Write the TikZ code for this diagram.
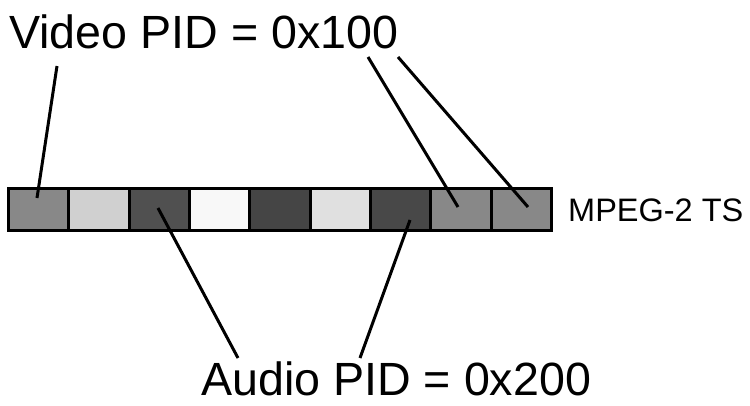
\documentclass[tikz,border=0pt]{standalone}
\usepackage{fontspec}
\setmainfont{Liberation Sans}
\begin{document}
\begin{tikzpicture}[x=1pt,y=-1pt,
  cell/.style={draw=black,line width=3pt,minimum width=60.33pt,minimum height=42pt,inner sep=0pt,anchor=north west},
  link/.style={draw=black,line width=3pt},
  bigtext/.style={font=\fontsize{46.6}{50}\selectfont,inner sep=0pt,anchor=base west},
  smalltext/.style={font=\fontsize{32.5}{35}\selectfont,inner sep=0pt,anchor=base west}]
\useasboundingbox (0,0) rectangle (750,405);
\fill[white] (0,0) rectangle (750,405);
\foreach \i/\c in {1/888888,2/D0D0D0,3/505050,4/F8F8F8,5/454545,6/E0E0E0,7/484848,8/888888,9/888888}{
  \definecolor{cc\i}{HTML}{\c}
  \node[cell,fill=cc\i] (c\i) at ({7+(\i-1)*60.33},187) {};
}
\node[bigtext] (video) at (9,48) {Video PID = 0x100};
\node[bigtext] (audio) at (201,395) {Audio PID = 0x200};
\node[smalltext] (ts) at (568,221) {MPEG-2 TS};
\coordinate (v1) at (57,66);
\coordinate (v2) at (368,57);
\coordinate (v3) at (398,57);
\coordinate (a1) at (238,358);
\coordinate (a2) at (360,358);
\coordinate (e1) at (37,198);
\coordinate (e8) at (458,207);
\coordinate (e9) at (528,207);
\coordinate (e3) at (158,208);
\coordinate (e7) at (410,220);
\draw[link] (v1) -- (e1);
\draw[link] (v2) -- (e8);
\draw[link] (v3) -- (e9);
\draw[link] (a1) -- (e3);
\draw[link] (a2) -- (e7);
\end{tikzpicture}
\end{document}
